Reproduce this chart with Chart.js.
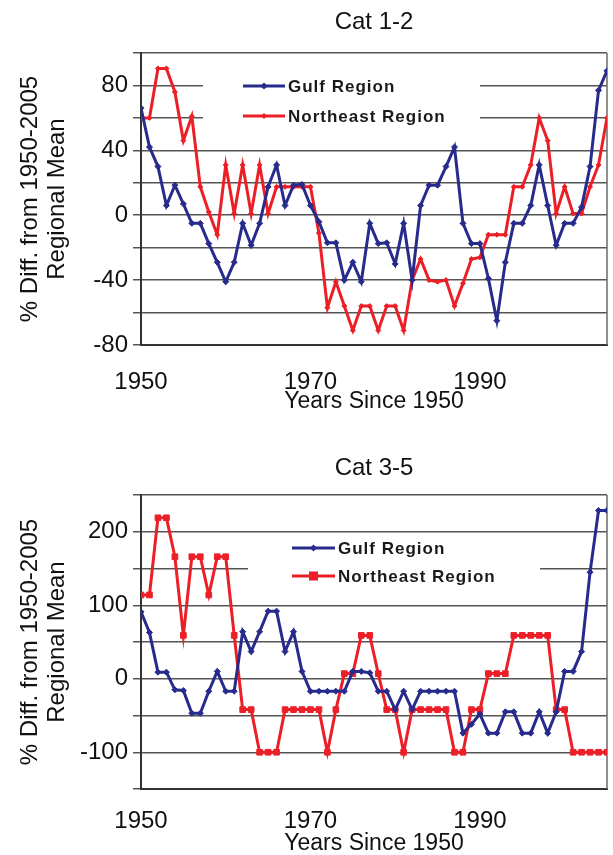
<!DOCTYPE html>
<html>
<head>
<meta charset="utf-8">
<script src="https://cdn.jsdelivr.net/npm/chart.js@4.4.0/dist/chart.umd.min.js"></script>
<style>
  body { margin: 0; background: #fff; }
  canvas { position: absolute; left: 0; }
  #top { top: 0; }
  #bottom { top: 430px; }
</style>
</head>
<body>
<canvas id="top" width="613" height="425"></canvas>
<canvas id="bottom" width="613" height="425"></canvas>
<script>
const years = [1950, 1951, 1952, 1953, 1954, 1955, 1956, 1957, 1958, 1959,
  1960, 1961, 1962, 1963, 1964, 1965, 1966, 1967, 1968, 1969,
  1970, 1971, 1972, 1973, 1974, 1975, 1976, 1977, 1978, 1979,
  1980, 1981, 1982, 1983, 1984, 1985, 1986, 1987, 1988, 1989,
  1990, 1991, 1992, 1993, 1994, 1995, 1996, 1997, 1998, 1999,
  2000, 2001, 2002, 2003, 2004, 2005];
const xTickLabels = [1950, 1970, 1990];

// Cat 1-2
const gulfCat12 = [66, 42, 30, 6, 18.5, 7, -5, -5, -17.5, -29,
  -41, -29, -5, -18.5, -5, 17.5, 31, 6, 18.5, 19,
  6, -4, -17, -17, -40, -29, -41, -5, -17.5, -17,
  -30, -5, -40, 6, 18.5, 18.5, 30, 42, -5, -17.5,
  -17.5, -39, -65, -29, -5, -5, 6, 31, 6, -18.5,
  -5, -5, 5, 30, 77, 89];
const northeastCat12 = [60, 60, 90.5, 90.5, 76, 46, 61, 17.5, 2, -12,
  31, 1, 31, 1, 31, 1, 17.5, 17.5, 17.5, 17.5,
  17.5, -11, -57, -41, -56, -71, -56, -56, -71, -56,
  -56, -71, -40, -27, -40, -41, -40, -56, -42, -27,
  -26, -12, -12, -12, 17.5, 17.5, 31, 60, 46, 1,
  17.5, 1, 1, 17.5, 31, 60];
const yTicksCat12 = [-80, -40, 0, 40, 80];

// Cat 3-5
const gulfCat35 = [91, 63, 9, 9, -15, -16, -47, -47, -17, 10,
  -17, -17, 64, 37, 64, 92, 92, 37, 64, 10,
  -17, -17, -17, -17, -17, 10, 10, 8, -17, -17,
  -42, -17, -42, -17, -17, -17, -17, -17, -74, -62,
  -48, -74, -74, -45, -45, -74, -74, -45, -74, -45,
  10, 10, 37, 145, 229, 229];
const northeastCat35 = [114, 114, 219, 219, 166, 59, 166, 166, 114, 166,
  166, 59, -42, -42, -100, -100, -100, -42, -42, -42,
  -42, -42, -100, -42, 7, 7, 59, 59, 7, -42,
  -42, -100, -42, -42, -42, -42, -42, -100, -100, -42,
  -42, 7, 7, 7, 59, 59, 59, 59, 59, -42,
  -42, -100, -100, -100, -100, -100];
const yTicksCat35 = [-100, 0, 100, 200];

const FONT = "'Liberation Sans', Arial, sans-serif";
const BLUE = '#262b8c';
const RED = '#ec1f27';

function drawMarker(ctx, style, r, x, y) {
  ctx.beginPath();
  if (style === 'rect') {
    ctx.rect(x - r, y - r, 2 * r, 2 * r);
  } else {
    ctx.moveTo(x, y - r); ctx.lineTo(x + r, y); ctx.lineTo(x, y + r); ctx.lineTo(x - r, y);
    ctx.closePath();
  }
  ctx.fill();
}

// title over the plot, legend box inside plot, right frame line
const decor = {
  id: 'decor',
  beforeDatasetsDraw(chart, args, opts) {
    const ctx = chart.ctx, a = chart.chartArea;
    ctx.save();
    ctx.fillStyle = '#111';
    ctx.font = '24px ' + FONT;
    ctx.textAlign = 'center';
    ctx.textBaseline = 'middle';
    ctx.fillText(opts.title, (a.left + a.right) / 2, opts.titleY);

    ctx.fillStyle = '#fff';
    ctx.fillRect(opts.x0, opts.y0, opts.x1 - opts.x0, opts.y1 - opts.y0);
    ctx.textAlign = 'left';
    chart.data.datasets.forEach((ds, i) => {
      const y = opts.rows[i];
      ctx.strokeStyle = ds.borderColor;
      ctx.lineWidth = ds.borderWidth;
      ctx.beginPath();
      ctx.moveTo(opts.sx, y);
      ctx.lineTo(opts.sx + opts.sw, y);
      ctx.stroke();
      ctx.fillStyle = ds.borderColor;
      drawMarker(ctx, ds.pointStyle, ds.pointRadius + 0.5, opts.sx + opts.sw / 2, y);
      ctx.fillStyle = '#1a1a1a';
      ctx.font = 'bold 17px ' + FONT;
      ctx.letterSpacing = '1px';
      ctx.fillText(ds.label, opts.sx + opts.sw + 3, y + 1);
    });
    ctx.strokeStyle = '#6a6a6a';
    ctx.lineWidth = 1.5;
    ctx.beginPath();
    ctx.moveTo(a.right, a.top);
    ctx.lineTo(a.right, a.bottom);
    ctx.stroke();
    ctx.restore();
  }
};

function makeChart(id, gulf, northeast, redStyle, redRadius, yMin, yMax, yStep, yTicks, lay) {
  new Chart(document.getElementById(id), {
    type: 'line',
    data: {
      datasets: [{
        label: 'Gulf Region',
        data: years.map((yr, i) => ({ x: yr, y: gulf[i] })),
        borderColor: BLUE,
        backgroundColor: BLUE,
        borderWidth: 3,
        pointStyle: 'rectRot',
        pointRadius: 3,
        pointBorderWidth: 1,
        tension: 0
      }, {
        label: 'Northeast Region',
        data: years.map((yr, i) => ({ x: yr, y: northeast[i] })),
        borderColor: RED,
        backgroundColor: RED,
        borderWidth: 3,
        pointStyle: redStyle,
        pointRadius: redRadius,
        pointBorderWidth: 1,
        tension: 0
      }]
    },
    options: {
      responsive: false,
      animation: false,
      devicePixelRatio: 1,
      layout: { padding: { left: 0, right: 6, top: lay.plotTop, bottom: 0 } },
      plugins: {
        legend: { display: false },
        tooltip: { enabled: false },
        title: { display: false },
        decor: lay.decor
      },
      scales: {
        x: {
          type: 'linear',
          min: 1950,
          max: 2005,
          afterBuildTicks: axis => { axis.ticks = xTickLabels.map(v => ({ value: v })); },
          afterFit: axis => { axis.height = lay.xHeight; },
          grid: { display: false },
          border: { display: true, color: '#333', width: 2 },
          ticks: {
            color: '#111',
            font: { family: FONT, size: 24 },
            padding: lay.xTickPad,
            maxRotation: 0,
            autoSkip: false,
            callback: v => String(v)
          },
          title: {
            display: true,
            text: 'Years Since 1950',
            color: '#111',
            font: { family: FONT, size: 23, lineHeight: 1 },
            padding: { top: 0, bottom: lay.xTitlePad }
          }
        },
        y: {
          min: yMin,
          max: yMax,
          afterFit: axis => { axis.width = 141; },
          grid: { color: '#555', lineWidth: 1.5, tickLength: 8, drawTicks: true },
          border: { display: true, color: '#333', width: 2 },
          ticks: {
            stepSize: yStep,
            color: '#111',
            padding: 5,
            font: { family: FONT, size: 24 },
            callback: v => (yTicks.includes(v) ? String(v) : '')
          },
          title: {
            display: true,
            text: ['% Diff. from 1950-2005', 'Regional Mean'],
            color: '#111',
            font: { family: FONT, size: 24, lineHeight: 1.13 },
            padding: { top: 17, bottom: 0 }
          }
        }
      }
    },
    plugins: [decor]
  });
}

makeChart('top', gulfCat12, northeastCat12, 'rectRot', 2.5, -80, 100, 20, yTicksCat12, {
  plotTop: 53, xHeight: 80, xTickPad: 15, xTitlePad: 12,
  decor: { title: 'Cat 1-2', titleY: 22, x0: 203, x1: 480, y0: 70, y1: 134, rows: [86, 116], sx: 243, sw: 42 }
});
makeChart('bottom', gulfCat35, northeastCat35, 'rect', 4, -150, 250, 50, yTicksCat35, {
  plotTop: 65, xHeight: 66, xTickPad: 10, xTitlePad: 0,
  decor: { title: 'Cat 3-5', titleY: 38, x0: 248, x1: 540, y0: 110, y1: 162, rows: [118, 146], sx: 292, sw: 43 }
});
</script>
</body>
</html>
